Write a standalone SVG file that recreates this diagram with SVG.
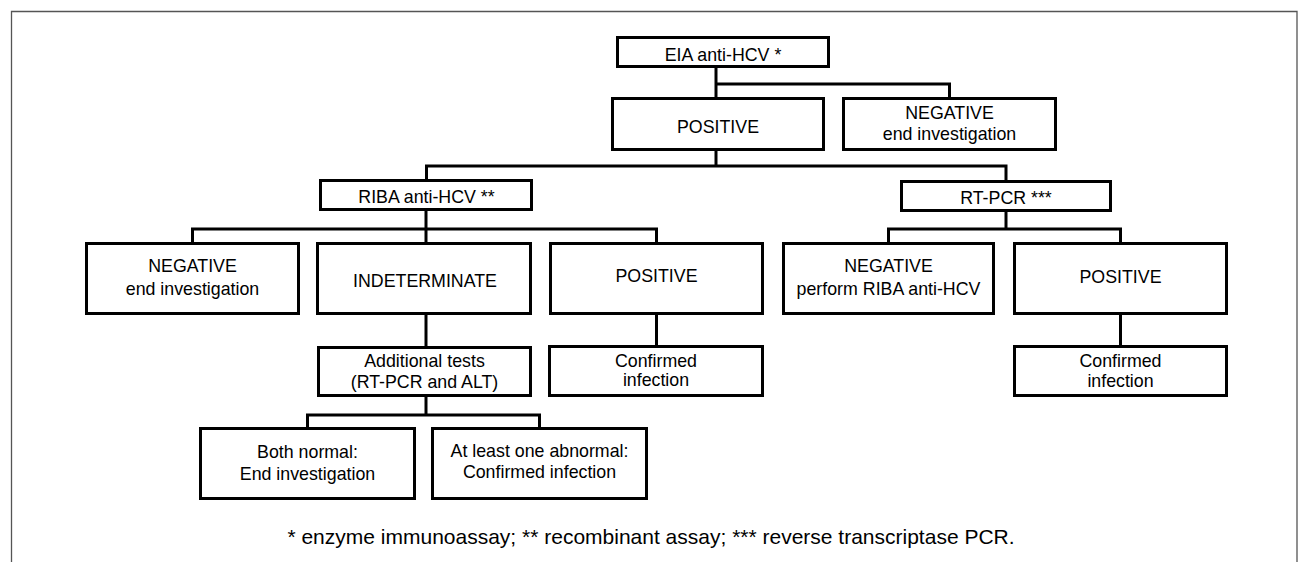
<svg xmlns="http://www.w3.org/2000/svg" width="1303" height="562" viewBox="0 0 1303 562">
<style>
.box{fill:#fff;stroke:#000;stroke-width:3}
.t{font-family:"Liberation Sans",Arial,sans-serif;font-size:17.8px;fill:#000;text-anchor:middle}
.fn{font-family:"Liberation Sans",Arial,sans-serif;font-size:21px;fill:#000;text-anchor:middle}
.c{fill:none;stroke:#000;stroke-width:3}
</style>
<rect width="1303" height="562" fill="#fff"/>
<path d="M11.5 562 V11.5 H1297 V562" fill="none" stroke="#555" stroke-width="1.3"/>
<g id="connectors">
<path class="c" d="M716 67 V98"/>
<path class="c" d="M716 84 H949.5 V98"/>
<path class="c" d="M716 150 V166"/>
<path class="c" d="M426.5 180 V166 H1006 V181"/>
<path class="c" d="M426 210 V243"/>
<path class="c" d="M192.5 243 V229 H656.5 V243"/>
<path class="c" d="M1006 211 V229"/>
<path class="c" d="M888.5 243 V229 H1120.5 V243"/>
<path class="c" d="M426 314 V347"/>
<path class="c" d="M656.5 314 V346"/>
<path class="c" d="M1120.5 314 V346"/>
<path class="c" d="M426 396 V415"/>
<path class="c" d="M307.5 428 V415 H539.5 V428"/>
</g>
<g id="eia"><rect class="box" x="617.5" y="37.5" width="211" height="29"/><text class="t" x="723" y="60.5">EIA anti-HCV *</text></g>
<g id="pos1"><rect class="box" x="612.5" y="98.5" width="211" height="51"/><text class="t" x="718" y="132.5">POSITIVE</text></g>
<g id="neg1"><rect class="box" x="843.5" y="98.5" width="212" height="51"/><text class="t" x="949.5" y="118.5">NEGATIVE</text><text class="t" x="949.5" y="139.5">end investigation</text></g>
<g id="riba"><rect class="box" x="320.5" y="180.5" width="211" height="29"/><text class="t" x="426.5" y="202.7">RIBA anti-HCV **</text></g>
<g id="rtpcr"><rect class="box" x="901.5" y="181.5" width="209" height="29"/><text class="t" x="1006" y="203.5">RT-PCR ***</text></g>
<g id="neg2"><rect class="box" x="86.5" y="243.5" width="212" height="70"/><text class="t" x="192.5" y="271.7">NEGATIVE</text><text class="t" x="192.5" y="295">end investigation</text></g>
<g id="indet"><rect class="box" x="317.5" y="243.5" width="213" height="70"/><text class="t" x="425" y="286.7">INDETERMINATE</text></g>
<g id="pos2"><rect class="box" x="550.5" y="243.5" width="212" height="70"/><text class="t" x="656.5" y="282.3">POSITIVE</text></g>
<g id="neg3"><rect class="box" x="783.5" y="243.5" width="210" height="70"/><text class="t" x="888.5" y="271.7">NEGATIVE</text><text class="t" x="888.5" y="295">perform RIBA anti-HCV</text></g>
<g id="pos3"><rect class="box" x="1014.5" y="243.5" width="212" height="70"/><text class="t" x="1120.5" y="283.3">POSITIVE</text></g>
<g id="addl"><rect class="box" x="318.5" y="347.5" width="212" height="48"/><text class="t" x="424.5" y="367">Additional tests</text><text class="t" x="424.5" y="388">(RT-PCR and ALT)</text></g>
<g id="conf1"><rect class="box" x="549.5" y="346.5" width="213" height="49"/><text class="t" x="656" y="366.5">Confirmed</text><text class="t" x="656" y="386">infection</text></g>
<g id="conf2"><rect class="box" x="1014.5" y="346.5" width="212" height="49"/><text class="t" x="1120.5" y="366.5">Confirmed</text><text class="t" x="1120.5" y="386.5">infection</text></g>
<g id="both"><rect class="box" x="200.5" y="428.5" width="214" height="70"/><text class="t" x="307.5" y="458">Both normal:</text><text class="t" x="307.5" y="480">End investigation</text></g>
<g id="atleast"><rect class="box" x="432.5" y="428.5" width="214" height="70"/><text class="t" x="539.5" y="457">At least one abnormal:</text><text class="t" x="539.5" y="477.5">Confirmed infection</text></g>
<text class="fn" x="651" y="544">* enzyme immunoassay; ** recombinant assay; *** reverse transcriptase PCR.</text>
</svg>
